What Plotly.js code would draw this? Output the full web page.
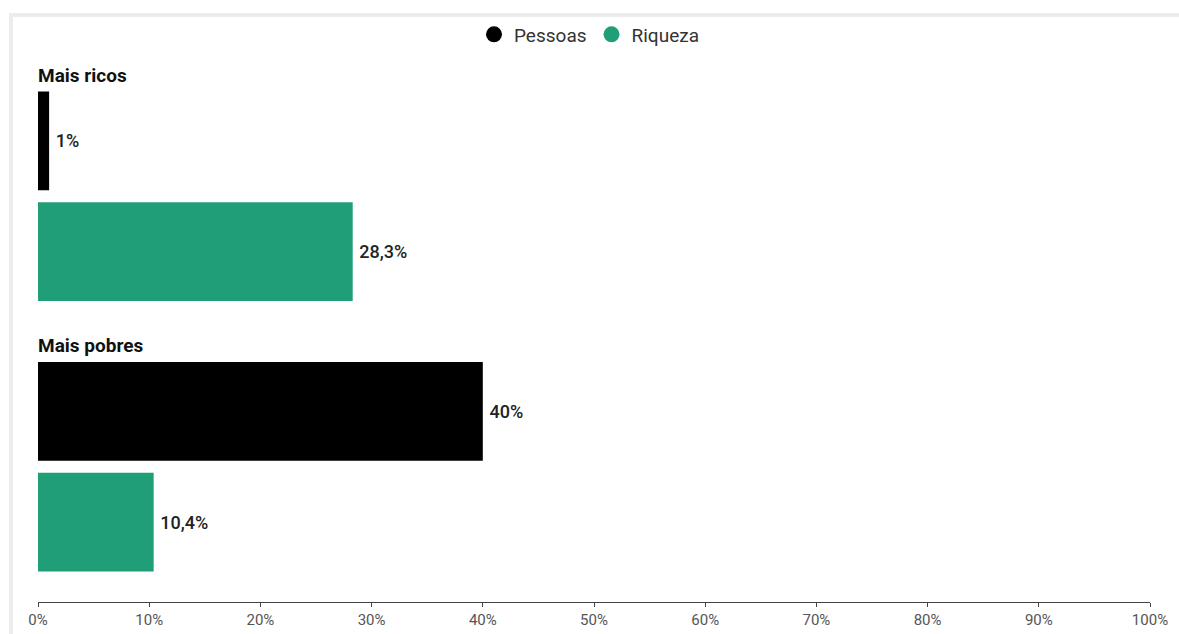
<!DOCTYPE html>
<html>
<head>
<meta charset="utf-8">
<script src="https://cdn.plot.ly/plotly-3.0.1.min.js"></script>
<style>
  html, body { margin: 0; padding: 0; background: #ffffff; overflow: hidden; }
  #frame { position: absolute; left: 9px; top: 13px; width: 2000px; height: 2000px;
           border-left: 4px solid #ececec; border-top: 4px solid #ececec; }
  #chart { position: absolute; left: 0; top: 0; width: 1179px; height: 634px; }
</style>
</head>
<body>
<div id="frame"></div>
<div id="chart"></div>
<script>
const categories = ["Mais ricos", "Mais pobres"];
const pessoas = [1, 40];
const riqueza = [28.3, 10.4];
const pessoasLabels = ["1%", "40%"];
const riquezaLabels = ["28,3%", "10,4%"];
const tickVals = [0, 10, 20, 30, 40, 50, 60, 70, 80, 90, 100];
const tickText = ["0%", "10%", "20%", "30%", "40%", "50%", "60%", "70%", "80%", "90%", "100%"];

const BLACK = "#000000";
const GREEN = "#1f9e77";

const labelFont = { family: "Roboto, sans-serif", size: 18, color: "#222222", weight: 500 };

const traces = [
  {
    type: "bar", orientation: "h", name: "Pessoas",
    y: categories, x: pessoas, text: pessoasLabels, texttemplate: "\u2009%{text}",
    textposition: "outside", textfont: labelFont, cliponaxis: false,
    marker: { color: BLACK }, showlegend: false, hoverinfo: "skip"
  },
  {
    type: "bar", orientation: "h", name: "Riqueza",
    y: categories, x: riqueza, text: riquezaLabels, texttemplate: "\u2009%{text}",
    textposition: "outside", textfont: labelFont, cliponaxis: false,
    marker: { color: GREEN }, showlegend: false, hoverinfo: "skip"
  },
  {
    type: "scatter", mode: "markers", name: "Pessoas",
    x: [null], y: [null], marker: { color: BLACK, size: 16, symbol: "circle" },
    showlegend: true, hoverinfo: "skip"
  },
  {
    type: "scatter", mode: "markers", name: "Riqueza",
    x: [null], y: [null], marker: { color: GREEN, size: 16, symbol: "circle" },
    showlegend: true, hoverinfo: "skip"
  }
];

const annotations = categories.map(c => ({
  x: 0, xref: "x", xanchor: "left", xshift: -2,
  y: c, yref: "y", yanchor: "middle", yshift: 121,
  text: "<b>" + c + "</b>", showarrow: false,
  font: { family: "Roboto, sans-serif", size: 19, color: "#111111" }
}));

const layout = {
  width: 1179, height: 634,
  margin: { l: 38, r: 29, t: 60.5, b: 31.5, pad: 0 },
  paper_bgcolor: "rgba(0,0,0,0)",
  plot_bgcolor: "rgba(0,0,0,0)",
  font: { family: "Roboto, sans-serif" },
  barmode: "group",
  bargap: 0.181,
  bargroupgap: 0.108,
  showlegend: true,
  legend: {
    orientation: "h", x: 0.4955, xanchor: "center", y: 1.049, yanchor: "middle",
    font: { family: "Roboto, sans-serif", size: 19, color: "#333333" },
    itemwidth: 30, itemgap: 2, traceorder: "normal", itemclick: false
  },
  xaxis: {
    range: [0, 100], fixedrange: true,
    tickvals: tickVals, ticktext: tickText,
    showgrid: false, zeroline: false,
    showline: true, linecolor: "#444444", linewidth: 1,
    ticks: "outside", ticklen: 4, tickcolor: "#444444",
    tickfont: { family: "Roboto, sans-serif", size: 15, color: "#555555" }
  },
  yaxis: {
    type: "category", categoryorder: "array", categoryarray: categories,
    autorange: "reversed", fixedrange: true,
    showticklabels: false, showgrid: false, zeroline: false, showline: false, ticks: ""
  },
  annotations: annotations
};

Plotly.newPlot("chart", traces, layout, { displayModeBar: false, staticPlot: true });
</script>
</body>
</html>
